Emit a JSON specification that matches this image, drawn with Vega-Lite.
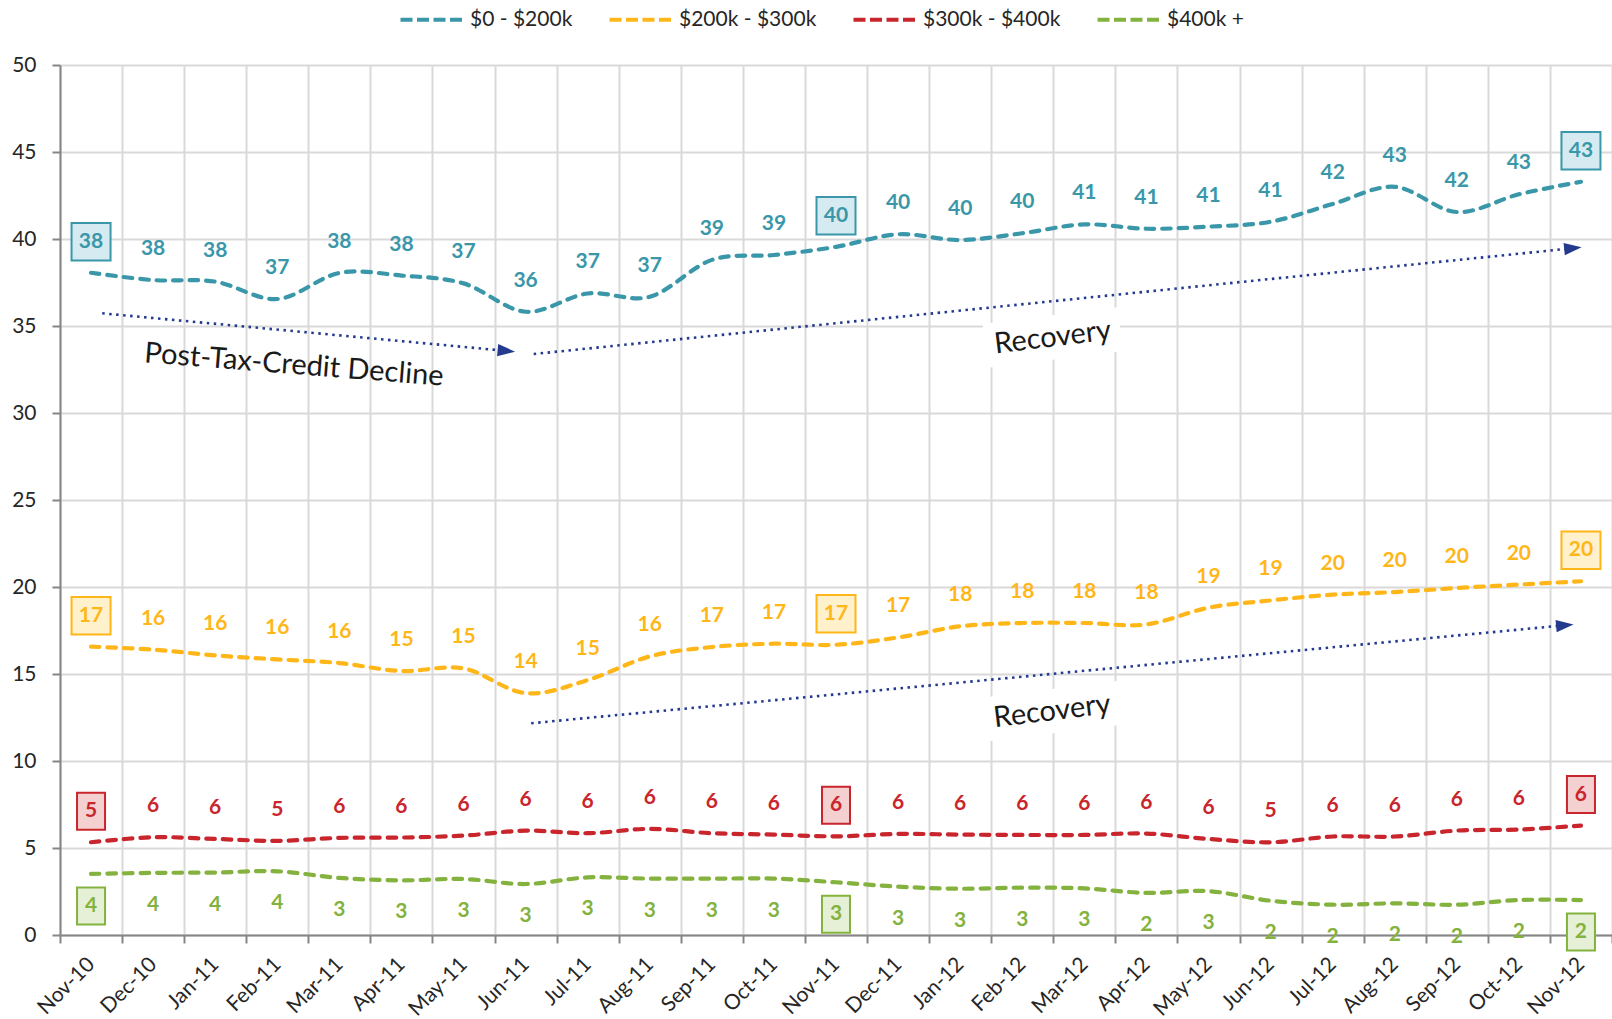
{
  "$schema": "https://vega.github.io/schema/vega-lite/v6.json",
  "width": 1552,
  "height": 870,
  "autosize": "none",
  "padding": {"left": 60, "top": 65, "right": 0, "bottom": 84},
  "background": "white",
  "config": {
    "font": "Lato",
    "view": {"stroke": null},
    "axis": {
      "labelFont": "Lato",
      "labelColor": "#262626",
      "domainColor": "#868686",
      "domainWidth": 2,
      "tickColor": "#868686",
      "tickWidth": 2,
      "tickSize": 8,
      "gridColor": "#d9d9d9",
      "gridWidth": 2
    }
  },
  "datasets": {
    "sales": [
      {"month": "Nov-10", "$0 - $200k": 38.06, "$200k - $300k": 16.57, "$300k - $400k": 5.33, "$400k +": 3.51},
      {"month": "Dec-10", "$0 - $200k": 37.64, "$200k - $300k": 16.40, "$300k - $400k": 5.62, "$400k +": 3.57},
      {"month": "Jan-11", "$0 - $200k": 37.55, "$200k - $300k": 16.07, "$300k - $400k": 5.52, "$400k +": 3.59},
      {"month": "Feb-11", "$0 - $200k": 36.55, "$200k - $300k": 15.84, "$300k - $400k": 5.41, "$400k +": 3.66},
      {"month": "Mar-11", "$0 - $200k": 38.05, "$200k - $300k": 15.63, "$300k - $400k": 5.58, "$400k +": 3.28},
      {"month": "Apr-11", "$0 - $200k": 37.90, "$200k - $300k": 15.17, "$300k - $400k": 5.60, "$400k +": 3.14},
      {"month": "May-11", "$0 - $200k": 37.45, "$200k - $300k": 15.32, "$300k - $400k": 5.71, "$400k +": 3.22},
      {"month": "Jun-11", "$0 - $200k": 35.82, "$200k - $300k": 13.90, "$300k - $400k": 6.00, "$400k +": 2.93},
      {"month": "Jul-11", "$0 - $200k": 36.87, "$200k - $300k": 14.65, "$300k - $400k": 5.85, "$400k +": 3.31},
      {"month": "Aug-11", "$0 - $200k": 36.68, "$200k - $300k": 16.01, "$300k - $400k": 6.10, "$400k +": 3.24},
      {"month": "Sep-11", "$0 - $200k": 38.80, "$200k - $300k": 16.55, "$300k - $400k": 5.85, "$400k +": 3.24},
      {"month": "Oct-11", "$0 - $200k": 39.08, "$200k - $300k": 16.74, "$300k - $400k": 5.77, "$400k +": 3.24},
      {"month": "Nov-11", "$0 - $200k": 39.55, "$200k - $300k": 16.68, "$300k - $400k": 5.67, "$400k +": 3.03},
      {"month": "Dec-11", "$0 - $200k": 40.27, "$200k - $300k": 17.10, "$300k - $400k": 5.81, "$400k +": 2.78},
      {"month": "Jan-12", "$0 - $200k": 39.94, "$200k - $300k": 17.74, "$300k - $400k": 5.77, "$400k +": 2.66},
      {"month": "Feb-12", "$0 - $200k": 40.33, "$200k - $300k": 17.93, "$300k - $400k": 5.75, "$400k +": 2.72},
      {"month": "Mar-12", "$0 - $200k": 40.84, "$200k - $300k": 17.93, "$300k - $400k": 5.75, "$400k +": 2.68},
      {"month": "Apr-12", "$0 - $200k": 40.59, "$200k - $300k": 17.85, "$300k - $400k": 5.83, "$400k +": 2.42},
      {"month": "May-12", "$0 - $200k": 40.71, "$200k - $300k": 18.81, "$300k - $400k": 5.52, "$400k +": 2.52},
      {"month": "Jun-12", "$0 - $200k": 40.99, "$200k - $300k": 19.23, "$300k - $400k": 5.33, "$400k +": 1.97},
      {"month": "Jul-12", "$0 - $200k": 42.01, "$200k - $300k": 19.56, "$300k - $400k": 5.66, "$400k +": 1.74},
      {"month": "Aug-12", "$0 - $200k": 43.00, "$200k - $300k": 19.71, "$300k - $400k": 5.66, "$400k +": 1.82},
      {"month": "Sep-12", "$0 - $200k": 41.55, "$200k - $300k": 19.94, "$300k - $400k": 6.00, "$400k +": 1.74},
      {"month": "Oct-12", "$0 - $200k": 42.57, "$200k - $300k": 20.14, "$300k - $400k": 6.06, "$400k +": 2.01},
      {"month": "Nov-12", "$0 - $200k": 43.29, "$200k - $300k": 20.33, "$300k - $400k": 6.29, "$400k +": 2.01}
    ],
    "arrows": [
      {"arrow": "decline", "x0": 0.18, "y0": 35.73, "x1": 6.69, "y1": 33.57},
      {"arrow": "recovery-high", "x0": 7.13, "y0": 33.39, "x1": 23.87, "y1": 39.47},
      {"arrow": "recovery-mid", "x0": 7.09, "y0": 12.17, "x1": 23.74, "y1": 17.80}
    ],
    "notes": [
      {"note": "Post-Tax-Credit Decline", "x": 3.27, "y": 32.76},
      {"note": "Recovery", "x": 15.49, "y": 34.34},
      {"note": "Recovery", "x": 15.48, "y": 12.86}
    ]
  },
  "layer": [
    {
      "data": {"name": "sales"},
      "transform": [
        {"fold": ["$0 - $200k", "$200k - $300k", "$300k - $400k", "$400k +"], "as": ["series", "value"]}
      ],
      "encoding": {
        "x": {
          "field": "month",
          "type": "ordinal",
          "title": null,
          "bandPosition": 0.5,
          "scale": {
            "type": "band",
            "paddingInner": 0,
            "paddingOuter": 0,
            "domain": ["Nov-10", "Dec-10", "Jan-11", "Feb-11", "Mar-11", "Apr-11", "May-11", "Jun-11", "Jul-11", "Aug-11", "Sep-11", "Oct-11", "Nov-11", "Dec-11", "Jan-12", "Feb-12", "Mar-12", "Apr-12", "May-12", "Jun-12", "Jul-12", "Aug-12", "Sep-12", "Oct-12", "Nov-12"]
          },
          "axis": {
            "title": null,
            "grid": true,
            "tickBand": "extent",
            "labelAngle": -45,
            "labelAlign": "right",
            "labelBaseline": "middle",
            "labelFontSize": 21,
            "labelPadding": 18
          }
        },
        "y": {
          "field": "value",
          "type": "quantitative",
          "title": null,
          "scale": {"domain": [0, 50], "nice": false, "zero": true},
          "axis": {
            "title": null,
            "values": [0, 5, 10, 15, 20, 25, 30, 35, 40, 45, 50],
            "labelFontSize": 21,
            "labelPadding": 16,
            "grid": true
          }
        }
      },
      "layer": [
        {
          "mark": {"type": "line", "interpolate": "cardinal", "strokeWidth": 4.2, "strokeDash": [8.5, 8], "strokeCap": "round"},
          "encoding": {
            "color": {
              "field": "series",
              "type": "nominal",
              "scale": {
                "domain": ["$0 - $200k", "$200k - $300k", "$300k - $400k", "$400k +"],
                "range": ["#3a97a9", "#ffb619", "#c9252c", "#84b23e"]
              },
              "legend": {
                "title": null,
                "orient": "none",
                "legendX": 338,
                "legendY": -79,
                "direction": "horizontal",
                "columns": 4,
                "columnPadding": 28,
                "symbolType": "stroke",
                "symbolSize": 3844,
                "symbolStrokeWidth": 4.2,
                "symbolDash": [12, 4.5],
                "labelFont": "Lato",
                "labelFontSize": 21,
                "labelColor": "#262626",
                "labelOffset": 5,
                "padding": 0,
                "encode": {
                  "symbols": {
                    "update": {
                      "shape": {"value": "stroke"},
                      "fill": {"value": "transparent"},
                      "strokeDash": {"value": [12, 4.5]},
                      "strokeWidth": {"value": 4.2}
                    }
                  }
                }
              }
            }
          }
        },
        {
          "transform": [
            {"filter": "indexof(['Nov-10','Nov-11','Nov-12'], datum.month) >= 0 && (datum.series == '$0 - $200k' || datum.series == '$200k - $300k')"}
          ],
          "mark": {"type": "point", "filled": true, "opacity": 1, "strokeWidth": 2, "size": 1521, "yOffset": -31, "shape": "M-1,-0.962H1V0.962H-1Z"},
          "encoding": {
            "fill": {
              "field": "series",
              "type": "nominal",
              "legend": null,
              "scale": {
                "domain": ["$0 - $200k", "$200k - $300k", "$300k - $400k", "$400k +"],
                "range": ["#d5ebf1", "#fff1cc", "#f4d0d1", "#e6f0d6"]
              }
            },
            "stroke": {
              "field": "series",
              "type": "nominal",
              "legend": null,
              "scale": {
                "domain": ["$0 - $200k", "$200k - $300k", "$300k - $400k", "$400k +"],
                "range": ["#3a97a9", "#ffb619", "#c9252c", "#84b23e"]
              }
            }
          }
        },
        {
          "transform": [
            {"filter": "indexof(['Nov-10','Nov-11','Nov-12'], datum.month) >= 0 && datum.series == '$300k - $400k'"}
          ],
          "mark": {"type": "point", "filled": true, "opacity": 1, "strokeWidth": 2, "size": 1369, "yOffset": -31, "shape": "M-0.757,-1H0.757V1H-0.757Z"},
          "encoding": {
            "fill": {"field": "series", "type": "nominal", "legend": null},
            "stroke": {"field": "series", "type": "nominal", "legend": null}
          }
        },
        {
          "transform": [
            {"filter": "indexof(['Nov-10','Nov-11','Nov-12'], datum.month) >= 0 && datum.series == '$400k +'"}
          ],
          "mark": {"type": "point", "filled": true, "opacity": 1, "strokeWidth": 2, "size": 1369, "yOffset": 32, "shape": "M-0.757,-1H0.757V1H-0.757Z"},
          "encoding": {
            "fill": {"field": "series", "type": "nominal", "legend": null},
            "stroke": {"field": "series", "type": "nominal", "legend": null}
          }
        },
        {
          "transform": [{"filter": "datum.series != '$400k +'"}],
          "mark": {"type": "text", "font": "Lato", "fontWeight": "bold", "fontSize": 21, "dy": -31, "baseline": "middle", "align": "center"},
          "encoding": {
            "text": {"field": "value", "type": "quantitative", "format": ".0f"},
            "color": {"field": "series", "type": "nominal", "legend": null}
          }
        },
        {
          "transform": [{"filter": "datum.series == '$400k +'"}],
          "mark": {"type": "text", "font": "Lato", "fontWeight": "bold", "fontSize": 21, "dy": 32, "baseline": "middle", "align": "center"},
          "encoding": {
            "text": {"field": "value", "type": "quantitative", "format": ".0f"},
            "color": {"field": "series", "type": "nominal", "legend": null}
          }
        }
      ]
    },
    {
      "layer": [
        {
          "data": {"name": "notes"},
          "transform": [{"filter": "datum.note == 'Recovery'"}],
          "mark": {"type": "point", "filled": true, "opacity": 1, "color": "white", "strokeWidth": 0, "size": 18496, "angle": -7, "shape": "M-1,-0.324H1V0.324H-1Z"},
          "encoding": {
            "x": {"field": "x", "type": "quantitative", "title": null, "scale": {"domain": [-0.5, 24.5], "nice": false, "zero": false}, "axis": null},
            "y": {"field": "y", "type": "quantitative", "title": null, "scale": {"domain": [0, 50], "nice": false}}
          }
        },
        {
          "data": {"name": "arrows"},
          "mark": {"type": "rule", "strokeDash": [2.5, 4.5], "strokeWidth": 2.6, "color": "#243a8e"},
          "encoding": {
            "x": {"field": "x0", "type": "quantitative", "title": null, "scale": {"domain": [-0.5, 24.5], "nice": false, "zero": false}, "axis": null},
            "y": {"field": "y0", "type": "quantitative", "title": null, "scale": {"domain": [0, 50], "nice": false}},
            "x2": {"field": "x1"},
            "y2": {"field": "y1"}
          }
        },
        {
          "data": {"name": "arrows"},
          "transform": [{"filter": "datum.arrow == 'decline'"}],
          "mark": {"type": "point", "filled": true, "opacity": 1, "color": "#243a8e", "size": 306, "angle": 5.3, "shape": "M1,0L-1,-0.7L-1,0.7Z"},
          "encoding": {
            "x": {"field": "x1", "type": "quantitative", "title": null, "scale": {"domain": [-0.5, 24.5], "nice": false, "zero": false}, "axis": null},
            "y": {"field": "y1", "type": "quantitative", "title": null, "scale": {"domain": [0, 50], "nice": false}}
          }
        },
        {
          "data": {"name": "arrows"},
          "transform": [{"filter": "datum.arrow == 'recovery-high'"}],
          "mark": {"type": "point", "filled": true, "opacity": 1, "color": "#243a8e", "size": 306, "angle": -5.8, "shape": "M1,0L-1,-0.7L-1,0.7Z"},
          "encoding": {
            "x": {"field": "x1", "type": "quantitative", "title": null, "scale": {"domain": [-0.5, 24.5], "nice": false, "zero": false}, "axis": null},
            "y": {"field": "y1", "type": "quantitative", "title": null, "scale": {"domain": [0, 50], "nice": false}}
          }
        },
        {
          "data": {"name": "arrows"},
          "transform": [{"filter": "datum.arrow == 'recovery-mid'"}],
          "mark": {"type": "point", "filled": true, "opacity": 1, "color": "#243a8e", "size": 306, "angle": -5.4, "shape": "M1,0L-1,-0.7L-1,0.7Z"},
          "encoding": {
            "x": {"field": "x1", "type": "quantitative", "title": null, "scale": {"domain": [-0.5, 24.5], "nice": false, "zero": false}, "axis": null},
            "y": {"field": "y1", "type": "quantitative", "title": null, "scale": {"domain": [0, 50], "nice": false}}
          }
        },
        {
          "data": {"name": "notes"},
          "transform": [{"filter": "datum.note == 'Recovery'"}],
          "mark": {"type": "text", "font": "Lato", "fontSize": 29, "angle": -7, "color": "#1a1a1a", "baseline": "middle", "align": "center"},
          "encoding": {
            "x": {"field": "x", "type": "quantitative", "title": null, "scale": {"domain": [-0.5, 24.5], "nice": false, "zero": false}, "axis": null},
            "y": {"field": "y", "type": "quantitative", "title": null, "scale": {"domain": [0, 50], "nice": false}},
            "text": {"field": "note", "type": "nominal"}
          }
        },
        {
          "data": {"name": "notes"},
          "transform": [{"filter": "datum.note != 'Recovery'"}],
          "mark": {"type": "text", "font": "Lato", "fontSize": 29, "angle": 4.5, "color": "#1a1a1a", "baseline": "middle", "align": "center"},
          "encoding": {
            "x": {"field": "x", "type": "quantitative", "title": null, "scale": {"domain": [-0.5, 24.5], "nice": false, "zero": false}, "axis": null},
            "y": {"field": "y", "type": "quantitative", "title": null, "scale": {"domain": [0, 50], "nice": false}},
            "text": {"field": "note", "type": "nominal"}
          }
        }
      ]
    }
  ],
  "resolve": {"scale": {"x": "independent"}}
}
